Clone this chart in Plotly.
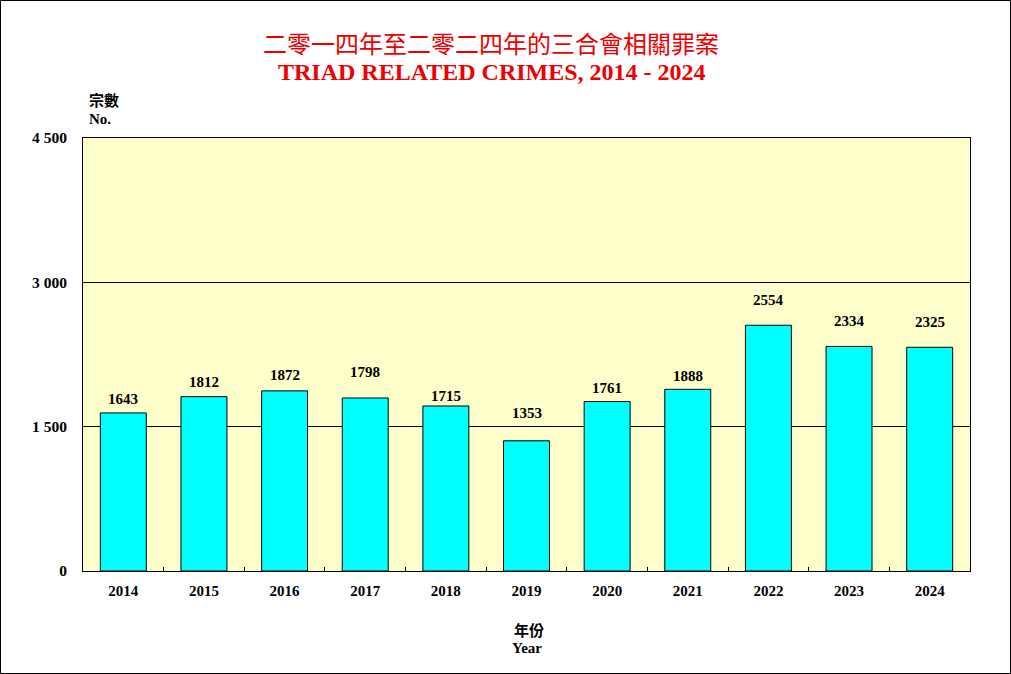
import plotly.graph_objects as go

years = ["2014", "2015", "2016", "2017", "2018", "2019", "2020", "2021", "2022", "2023", "2024"]
cases = [1643, 1812, 1872, 1798, 1715, 1353, 1761, 1888, 2554, 2334, 2325]
ytick_vals = [0, 1500, 3000, 4500]
ytick_text = ["0", "1 500", "3 000", "4 500"]

# pixel offset of each value label above its bar top (style, as in the reference)
label_lift = [14, 15, 16, 26, 10, 28, 14, 13, 25, 25, 25]

W, H = 1011, 674
L, R, T, B = 83, 41, 138, 103
pw, ph = W - L - R, H - T - B

serif = "Liberation Serif, Times New Roman, serif"
cjk = "Noto Sans CJK TC, Noto Sans CJK SC, sans-serif"

fig = go.Figure()
fig.add_trace(go.Bar(
    x=years, y=cases,
    marker=dict(color="#00FFFF", line=dict(color="black", width=1)),
    width=0.57, hoverinfo="x+y",
))

# value labels: x given as category index on the category axis
annotations = [
    dict(x=i, y=v, xref="x", yref="y", text=f"<b>{v}</b>", showarrow=False,
         xanchor="center", yanchor="middle", yshift=lift,
         font=dict(family=serif, size=15, color="black"))
    for i, (v, lift) in enumerate(zip(cases, label_lift))
]

annotations += [
    dict(text="二零一四年至二零二四年的三合會相關罪案", xref="paper", yref="paper",
         x=(491 - L) / pw, y=(H - B - 42) / ph, xanchor="center", yanchor="middle",
         showarrow=False, font=dict(family=cjk, size=24, color="#EE0000")),
    dict(text="<b>TRIAD RELATED CRIMES, 2014 - 2024</b>", xref="paper", yref="paper",
         x=(492 - L) / pw, y=(H - B - 72) / ph, xanchor="center", yanchor="middle",
         showarrow=False, font=dict(family=serif, size=24, color="#EE0000")),
    dict(text="<b>宗數</b>", xref="paper", yref="paper",
         x=(104 - L) / pw, y=(H - B - 100) / ph, xanchor="center", yanchor="middle",
         showarrow=False, font=dict(family=cjk, size=15, color="black")),
    dict(text="<b>No.</b>", xref="paper", yref="paper",
         x=(100 - L) / pw, y=(H - B - 119) / ph, xanchor="center", yanchor="middle",
         showarrow=False, font=dict(family=serif, size=15, color="black")),
    dict(text="<b>年份</b>", xref="paper", yref="paper",
         x=(529 - L) / pw, y=(H - B - 629) / ph, xanchor="center", yanchor="middle",
         showarrow=False, font=dict(family=cjk, size=15, color="black")),
    dict(text="<b>Year</b>", xref="paper", yref="paper",
         x=(527 - L) / pw, y=(H - B - 648) / ph, xanchor="center", yanchor="middle",
         showarrow=False, font=dict(family=serif, size=15, color="black")),
]

fig.update_layout(
    width=W, height=H,
    margin=dict(l=L, r=R, t=T, b=B),
    paper_bgcolor="white", plot_bgcolor="#FFFFCC",
    showlegend=False,
    xaxis=dict(
        type="category", categoryorder="array", categoryarray=years,
        range=[-0.5, len(years) - 0.5],
        showline=True, linecolor="black", linewidth=1, mirror=True,
        ticks="inside", ticklen=4, tickcolor="black", tickson="boundaries",
        ticklabelstandoff=6, tickangle=0,
        tickfont=dict(family=serif, size=15, color="black", weight="bold"),
        showgrid=False,
    ),
    yaxis=dict(
        range=[0, 4500], tickvals=ytick_vals, ticktext=ytick_text,
        showline=True, linecolor="black", linewidth=1, mirror=True,
        showgrid=True, gridcolor="black", gridwidth=1,
        zeroline=False, ticks="", ticklabelstandoff=12,
        tickfont=dict(family=serif, size=15.5, color="black", weight="bold"),
    ),
    annotations=annotations,
    shapes=[
        dict(type="rect", xref="paper", yref="paper",
             x0=(0.5 - L) / pw, x1=(W - 0.5 - L) / pw,
             y0=(H - B - (H - 0.5)) / ph, y1=(H - B - 0.5) / ph,
             line=dict(color="black", width=1), fillcolor="rgba(0,0,0,0)", layer="above"),
    ],
)

fig.write_html(
    "out.html",
    config={"displayModeBar": False},
    post_script="document.body.style.margin='0';document.body.style.overflow='hidden';",
)
